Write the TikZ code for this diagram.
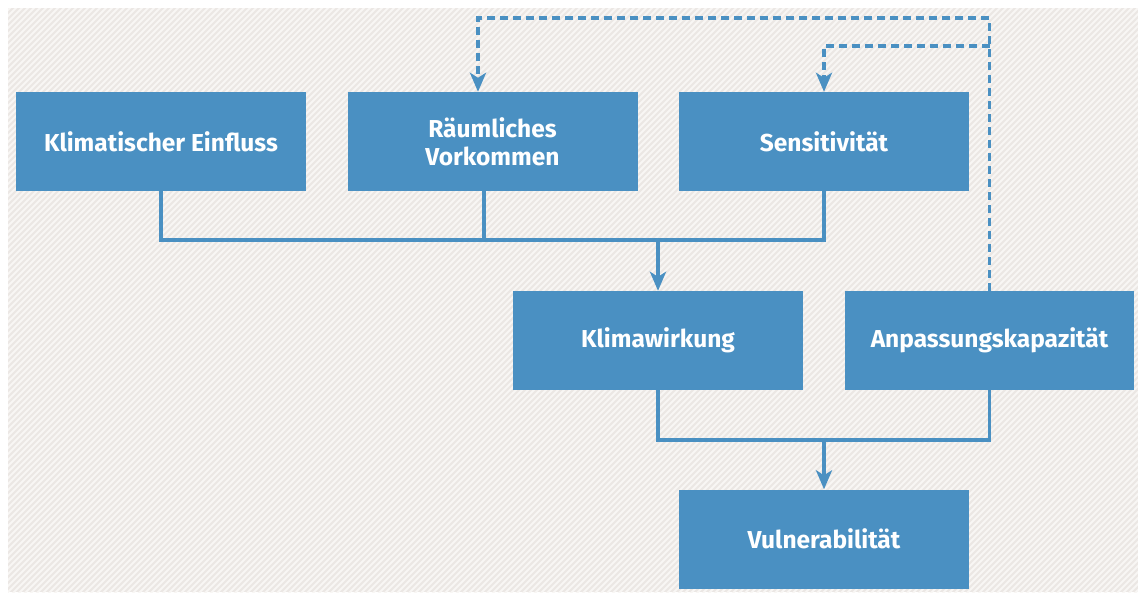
\documentclass[tikz,border=0pt]{standalone}
\usepackage{fontspec}
\setmainfont{Fira Sans}
\usetikzlibrary{arrows.meta}
\definecolor{boxblue}{HTML}{4A90C2}
\definecolor{bgcol}{HTML}{EBE7E4}
\definecolor{stripe}{HTML}{F8F6F4}
\begin{document}
\begin{tikzpicture}[x=1pt,y=-1pt,
  box/.style={fill=boxblue,minimum width=290pt,minimum height=99pt,inner sep=0pt,
    text=white,font=\fontsize{24.5}{28}\selectfont\bfseries,align=center},
  conn/.style={draw=boxblue,line width=3.6pt},
  tip/.style={-{Stealth[length=19pt,width=16pt,inset=5pt]}},
  dsh/.style={draw=boxblue,line width=3.6pt,dash pattern=on 8pt off 5pt}]
\useasboundingbox (0,0) rectangle (1138,592);
\fill[white] (0,0) rectangle (1138,592);
\begin{scope}
\clip (8,8) rectangle (1138,592);
\fill[bgcol] (8,8) rectangle (1138,592);
\foreach \i in {-600,-594,...,1140}
  \draw[stripe,line width=1.8pt] (\i,600) -- (\i+600,0);
\end{scope}
\node[box] (b1) at (161,141.5) {Klimatischer Einfluss};
\node[box] (b2) at (492.5,141.5) {Räumliches\\Vorkommen};
\node[box] (b3) at (824,141.5) {Sensitivität};
\node[box] (b4) at (658,340.5) {Klimawirkung};
\node[box,minimum width=289pt] (b5) at (989.5,340.5) {Anpassungskapazität};
\node[box] (b6) at (824,539) {Vulnerabilität};
\coordinate (h1) at (0,240);
\coordinate (h2) at (0,440);
\coordinate (s2) at (484,191);
\coordinate (d1) at (478,18);
\coordinate (d2) at (990,46);
\draw[conn] (b1.south) -- (b1.south |- h1) -- (b3.south |- h1) -- (b3.south);
\draw[conn] (s2) -- (s2 |- h1);
\draw[conn,tip] (b4.north |- h1) -- (b4.north);
\draw[conn] (b4.south) -- (b4.south |- h2) -- (b5.south |- h2) -- (b5.south);
\draw[conn,tip] (b6.north |- h2) -- (b6.north);
\draw[dsh,tip] (b5.north) -- (b5.north |- d1) -- (d1) -- (d1 |- b2.north);
\draw[dsh,tip] (d2) -- (b3.north |- d2) -- (b3.north);
\end{tikzpicture}
\end{document}
